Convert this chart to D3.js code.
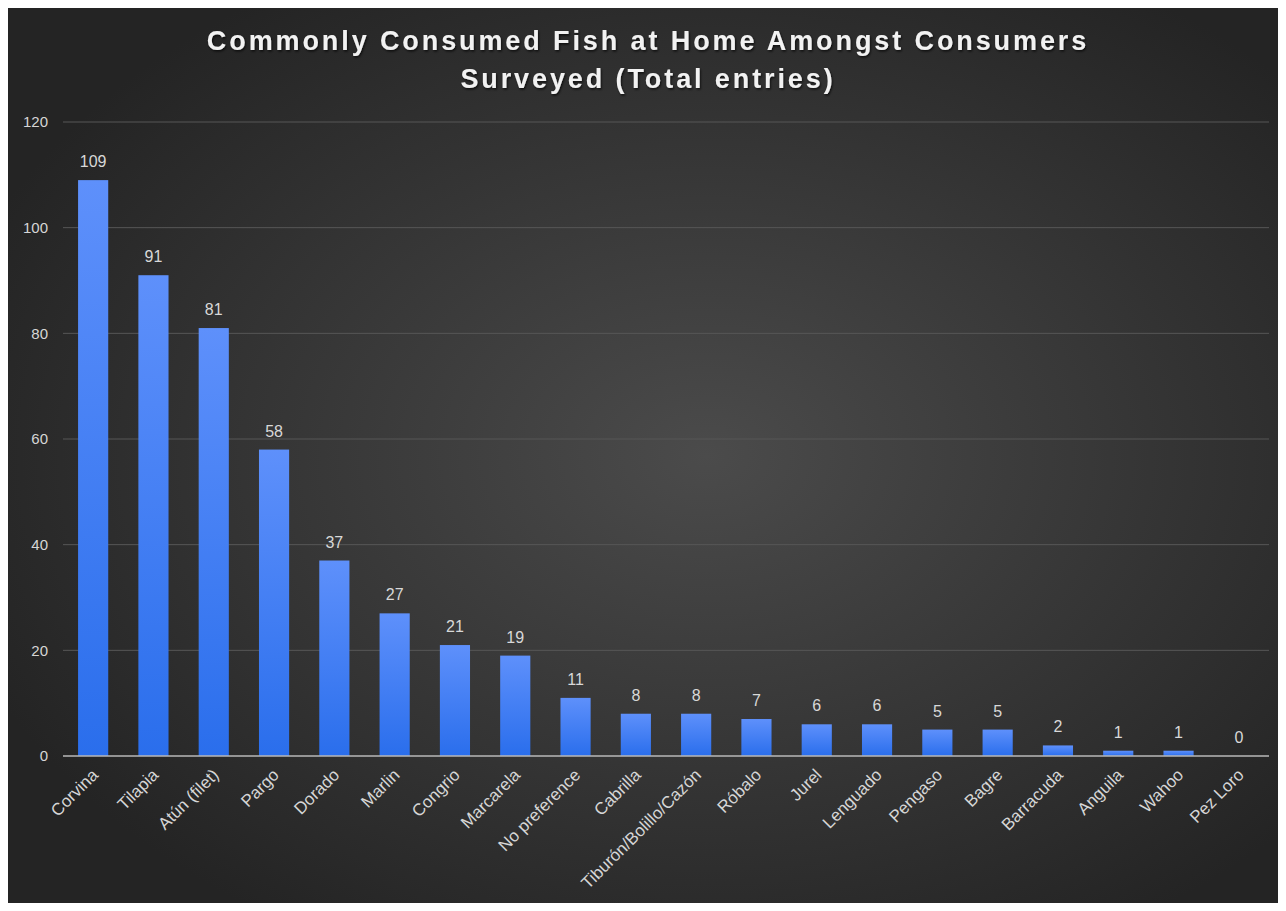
<!DOCTYPE html>
<html><head><meta charset="utf-8">
<script src="https://cdn.jsdelivr.net/npm/d3@7"></script>
<style>html,body{margin:0;padding:0;background:#fff;}svg{display:block;}</style>
</head><body>
<script>
const categories = ["Corvina","Tilapia","Atún (filet)","Pargo","Dorado","Marlin","Congrio","Marcarela","No preference","Cabrilla","Tiburón/Bolillo/Cazón","Róbalo","Jurel","Lenguado","Pengaso","Bagre","Barracuda","Anguila","Wahoo","Pez Loro"];
const values = [109,91,81,58,37,27,21,19,11,8,8,7,6,6,5,5,2,1,1,0];
const yTicks = [0,20,40,60,80,100,120];
const titleLines = ["Commonly Consumed Fish at Home Amongst Consumers","Surveyed (Total entries)"];

const W = 1286, H = 911;
const FONT = "Liberation Sans, Arial, sans-serif";
const svg = d3.select("body").append("svg").attr("width", W).attr("height", H);
const defs = svg.append("defs");
const rg = defs.append("radialGradient").attr("id","bg").attr("cx","55%").attr("cy","50%").attr("r","62%");
rg.append("stop").attr("offset","0%").attr("stop-color","#4b4b4b");
rg.append("stop").attr("offset","100%").attr("stop-color","#242424");
const bg = defs.append("linearGradient").attr("id","bar").attr("x1",0).attr("y1",0).attr("x2",0).attr("y2",1);
bg.append("stop").attr("offset","0%").attr("stop-color","#5e90fb");
bg.append("stop").attr("offset","100%").attr("stop-color","#2a6eec");
const sh = defs.append("filter").attr("id","sh").attr("x","-5%").attr("y","-20%").attr("width","110%").attr("height","150%");
sh.append("feDropShadow").attr("dx",1).attr("dy",1.5).attr("stdDeviation",1).attr("flood-color","#000").attr("flood-opacity",0.7);

svg.append("rect").attr("x",0).attr("y",0).attr("width",W).attr("height",H).attr("fill","#fff");
svg.append("rect").attr("x",8).attr("y",8).attr("width",W-16).attr("height",H-16).attr("fill","url(#bg)");

const x = d3.scaleBand().domain(categories).range([63,1269]).paddingInner(0.5).paddingOuter(0.25);
const y = d3.scaleLinear().domain([0,120]).range([756,122]);

// gridlines
svg.append("g").selectAll("line").data(yTicks.filter(d=>d>0)).join("line")
  .attr("x1",63).attr("x2",1269).attr("y1",d=>y(d)).attr("y2",d=>y(d))
  .attr("stroke","#575757").attr("stroke-width",1);

const yAxis = svg.append("g").attr("transform","translate(63,0)")
  .call(d3.axisLeft(y).tickValues(yTicks).tickSize(0).tickPadding(15));
yAxis.select(".domain").remove();
yAxis.selectAll("text").attr("fill","#d6d6d6").attr("font-family",FONT).attr("font-size",15);

// bars
svg.append("g").selectAll("rect").data(values).join("rect")
  .attr("x",(d,i)=>x(categories[i])).attr("width",x.bandwidth())
  .attr("y",d=>y(d)).attr("height",d=>y(0)-y(d))
  .attr("fill","url(#bar)");

// value labels
svg.append("g").selectAll("text").data(values).join("text")
  .attr("x",(d,i)=>x(categories[i])+x.bandwidth()/2).attr("y",d=>y(d)-13)
  .attr("text-anchor","middle").attr("fill","#d8d8d8")
  .attr("font-family",FONT).attr("font-size",16)
  .text(d=>d);

// baseline
svg.append("line").attr("x1",63).attr("x2",1269).attr("y1",y(0)).attr("y2",y(0)).attr("stroke","#b8b8b8").attr("stroke-width",1.5);

// x axis
const xAxis = svg.append("g").attr("transform",`translate(0,${y(0)})`)
  .call(d3.axisBottom(x).tickSize(0).tickPadding(0));
xAxis.select(".domain").remove();
xAxis.selectAll("text").attr("fill","#d6d6d6").attr("font-family",FONT).attr("font-size",17)
  .attr("text-anchor","end").attr("dy","0").attr("dx","0").attr("y",0)
  .attr("transform","translate(6,20) rotate(-45)");

// title
svg.append("g").attr("filter","url(#sh)").selectAll("text").data(titleLines).join("text")
  .attr("x",648).attr("y",(d,i)=>50+i*38).attr("text-anchor","middle")
  .attr("fill","#f2f2f2").attr("font-family",FONT)
  .attr("font-weight","bold").attr("font-size",27).attr("letter-spacing","2.9px")
  .text(d=>d);
</script>
</body></html>
